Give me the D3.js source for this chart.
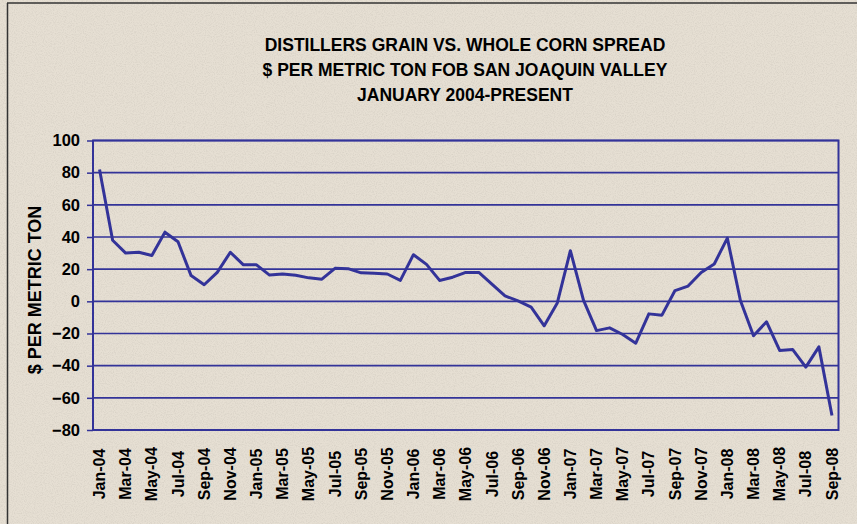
<!DOCTYPE html>
<html>
<head>
<meta charset="utf-8">
<script src="https://cdn.jsdelivr.net/npm/d3@7"></script>
<style>
  html, body { margin: 0; padding: 0; background: #e6dfd3; }
  svg { display: block; }
</style>
</head>
<body>
<svg id="chart" width="857" height="524"></svg>
<script>
// ---- Data ----
const months = [
  "Jan-04","Feb-04","Mar-04","Apr-04","May-04","Jun-04","Jul-04","Aug-04","Sep-04","Oct-04","Nov-04","Dec-04",
  "Jan-05","Feb-05","Mar-05","Apr-05","May-05","Jun-05","Jul-05","Aug-05","Sep-05","Oct-05","Nov-05","Dec-05",
  "Jan-06","Feb-06","Mar-06","Apr-06","May-06","Jun-06","Jul-06","Aug-06","Sep-06","Oct-06","Nov-06","Dec-06",
  "Jan-07","Feb-07","Mar-07","Apr-07","May-07","Jun-07","Jul-07","Aug-07","Sep-07","Oct-07","Nov-07","Dec-07",
  "Jan-08","Feb-08","Mar-08","Apr-08","May-08","Jun-08","Jul-08","Aug-08","Sep-08"
];
const spread = [
  82, 38, 30, 30.5, 28.5, 43, 37, 16, 10.3, 18, 30.5, 22.7,
  22.7, 16.3, 17, 16.2, 14.6, 13.8, 20.5, 20.3, 17.7, 17.5, 17, 13,
  29, 23, 13, 15, 18, 18, 10.7, 3.4, 0.3, -3.6, -15.2, -1,
  31.5, 0.8, -18.2, -16.5, -20.6, -26, -7.8, -8.6, 6.7, 9.5, 17.9, 23.2,
  39.3, 0.5, -21.4, -12.7, -30.5, -30, -40.9, -28.3, -71
];
const yTicks = [-80, -60, -40, -20, 0, 20, 40, 60, 80, 100];
const xTickLabels = months.filter((d, i) => i % 2 === 0);
const titleLines = [
  "DISTILLERS GRAIN VS. WHOLE CORN SPREAD",
  "$ PER METRIC TON FOB SAN JOAQUIN VALLEY",
  "JANUARY 2004-PRESENT"
];
const yAxisTitle = "$ PER METRIC TON";

// ---- Layout ----
const W = 857, H = 524;
const plot = { left: 93, right: 838.5, top: 140.5, bottom: 430 };
const blue = "#333399";
const font = "'Liberation Sans', Arial, sans-serif";

const svg = d3.select("#chart");

// subtle paper texture
const defs = svg.append("defs");
const f = defs.append("filter").attr("id", "paper").attr("x", 0).attr("y", 0).attr("width", "100%").attr("height", "100%");
f.append("feTurbulence").attr("type", "fractalNoise").attr("baseFrequency", 0.9).attr("numOctaves", 2).attr("seed", 3).attr("result", "noise");
f.append("feColorMatrix").attr("in", "noise").attr("type", "matrix")
  .attr("values", "0 0 0 0 0.45  0 0 0 0 0.42  0 0 0 0 0.37  0 0 0 -1.6 0.95");

// background
svg.append("rect").attr("x", 0).attr("y", 0).attr("width", W).attr("height", H).attr("fill", "#e6dfd3");
svg.append("rect").attr("x", 0).attr("y", 0).attr("width", W).attr("height", H).attr("filter", "url(#paper)").attr("opacity", 0.35);
// outer border (left & top visible)
svg.append("line").attr("x1", 7.5).attr("x2", 7.5).attr("y1", 3).attr("y2", H).attr("stroke", "#333").attr("stroke-width", 1.5);
svg.append("line").attr("x1", 7).attr("x2", W).attr("y1", 3).attr("y2", 3).attr("stroke", "#333").attr("stroke-width", 1.5);

const x = d3.scaleBand().domain(months).range([plot.left, plot.right]).padding(0);
const y = d3.scaleLinear().domain([-80, 100]).range([plot.bottom, plot.top]);

// gridlines
svg.append("g").selectAll("line").data(yTicks).join("line")
  .attr("x1", plot.left).attr("x2", plot.right)
  .attr("y1", d => y(d)).attr("y2", d => y(d))
  .attr("stroke", blue).attr("stroke-width", 1.6);

// frame
svg.append("rect")
  .attr("x", plot.left).attr("y", plot.top)
  .attr("width", plot.right - plot.left).attr("height", plot.bottom - plot.top)
  .attr("fill", "none").attr("stroke", blue).attr("stroke-width", 2);

// y axis
const yAxis = svg.append("g")
  .attr("transform", `translate(${plot.left},0)`)
  .call(d3.axisLeft(y).tickValues(yTicks).tickSize(6).tickPadding(7).tickFormat(d3.format("d")));
yAxis.select(".domain").remove();
yAxis.selectAll(".tick line").attr("stroke", blue).attr("stroke-width", 1.5);
yAxis.selectAll(".tick text")
  .attr("fill", "#000").style("font-family", font).style("font-weight", "bold").style("font-size", "16.5px");

// x axis (labels centred, rotated)
const xAxis = svg.append("g")
  .attr("transform", `translate(0,${plot.bottom})`)
  .call(d3.axisBottom(x).tickValues(xTickLabels).tickSize(0).tickPadding(0));
xAxis.select(".domain").remove();
xAxis.selectAll(".tick text")
  .attr("fill", "#000")
  .style("font-family", font).style("font-weight", "bold").style("font-size", "16px")
  .attr("transform", "rotate(-90)")
  .attr("text-anchor", "middle")
  .attr("dy", "0.35em")
  .attr("x", -44).attr("y", 0);

// line
const line = d3.line().x((d, i) => x(months[i]) + x.bandwidth() / 2).y(d => y(d));
svg.append("path").datum(spread)
  .attr("d", line)
  .attr("fill", "none").attr("stroke", blue).attr("stroke-width", 3)
  .attr("stroke-linejoin", "round");

// title
svg.append("g").selectAll("text").data(titleLines).join("text")
  .attr("x", 465).attr("y", (d, i) => 51 + i * 25)
  .attr("text-anchor", "middle")
  .style("font-family", font).style("font-weight", "bold").style("font-size", "17.5px")
  .attr("fill", "#000")
  .text(d => d);

// y axis title
svg.append("text")
  .attr("transform", `translate(41,290) rotate(-90)`)
  .attr("text-anchor", "middle")
  .style("font-family", font).style("font-weight", "bold").style("font-size", "18px")
  .attr("fill", "#000")
  .text(yAxisTitle);
</script>
</body>
</html>
